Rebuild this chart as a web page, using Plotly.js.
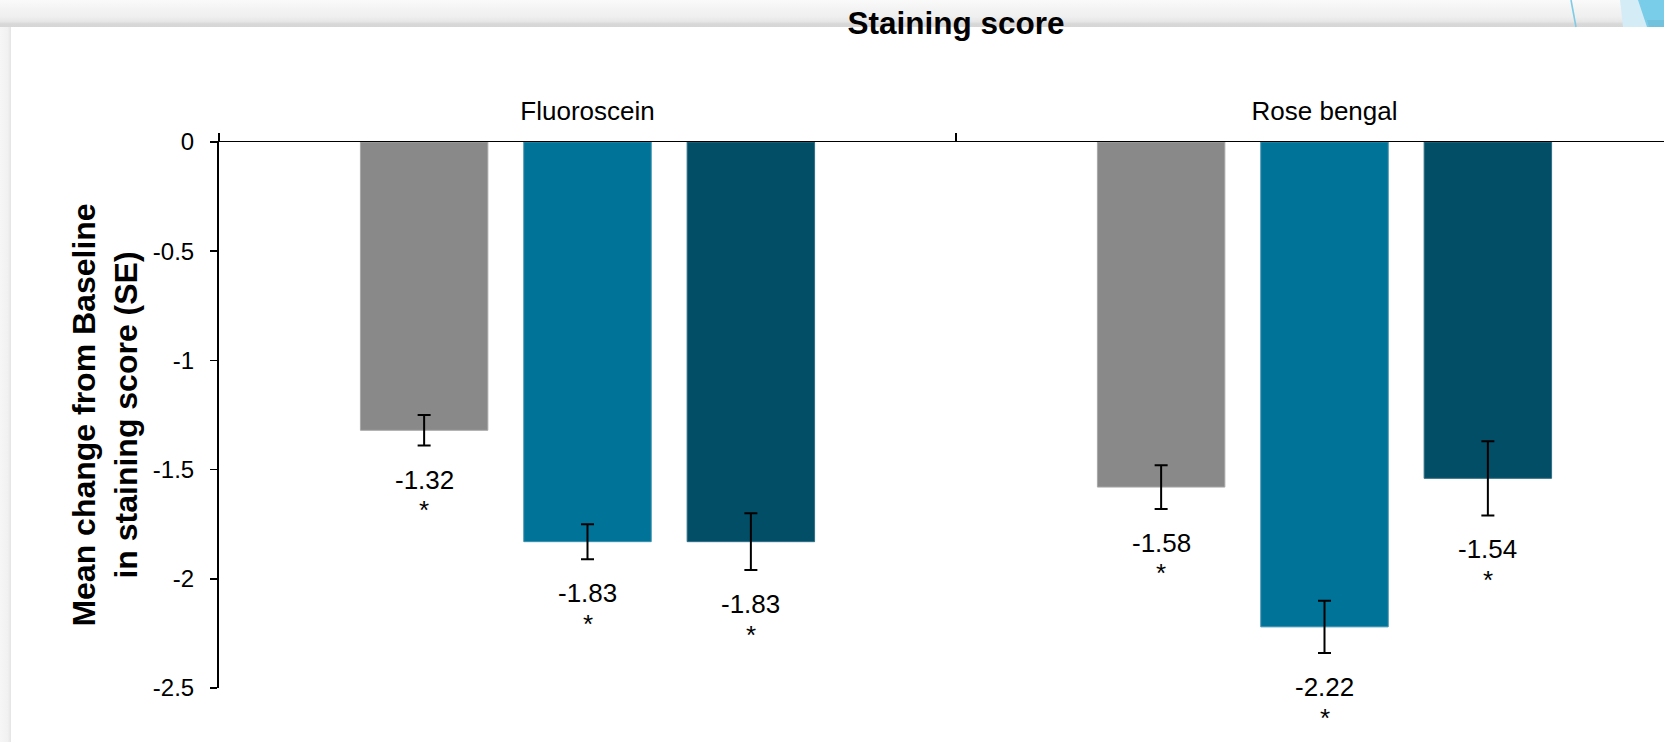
<!DOCTYPE html>
<html>
<head>
<meta charset="utf-8">
<script src="https://cdn.plot.ly/plotly-3.0.1.min.js"></script>
<style>
  html, body { margin: 0; padding: 0; width: 1664px; height: 742px; overflow: hidden; background: #ffffff; }
  #band { position: absolute; left: 0; top: 0; width: 1664px; height: 27px;
    background: linear-gradient(to bottom, #fafafa 0%, #f4f4f4 30%, #efefef 62%, #e6e6e6 80%, #d8d8d8 88%, #d6d6d6 100%); }
  #strip { position: absolute; left: 0; top: 27px; width: 11px; height: 715px;
    background: linear-gradient(to right, #f6f6f6 0%, #f1f1f1 70%, #e4e4e4 100%); }
  #deco { position: absolute; left: 0; top: 0; }
  #chart { position: absolute; left: 0; top: 0; width: 1720px; height: 742px; }
</style>
</head>
<body>
<div id="band"></div>
<div id="strip"></div>
<svg id="deco" width="1664" height="28">
  <polygon points="1620,0 1640,0 1648,27 1623,27" fill="#d4ecf6"/>
  <polygon points="1638,0 1664,0 1664,27 1647,27" fill="#7acde9"/>
  <polygon points="1647,20 1664,20 1664,27 1649,27" fill="#6cbad6" opacity="0.6"/>
  <line x1="1571" y1="0" x2="1576" y2="27" stroke="#7fcbe6" stroke-width="1.6"/>
</svg>
<div id="chart"></div>
<script>
// ---- data ----
var categories = ['Fluoroscein', 'Rose bengal'];
var seriesNames = ['Series 1', 'Series 2', 'Series 3'];
var series1 = [-1.32, -1.58];
var series2 = [-1.83, -2.22];
var series3 = [-1.83, -1.54];
var se1 = [0.07, 0.10];
var se2 = [0.08, 0.12];
var se3 = [0.13, 0.17];
var markers = ['*', '*'];
var yTickVals = [0, -0.5, -1, -1.5, -2, -2.5];
var yTickText = ['0', '-0.5', '-1', '-1.5', '-2', '-2.5'];
var colors = ['#898989', '#007398', '#024e66'];
var edgeColors = ['#a8a8a8', '#3a8fae', '#2e6e84'];

var FONT = '"Liberation Sans", Arial, sans-serif';
var bargap = 0.335, bargroupgap = 0.22;

var values = [series1, series2, series3];
var errs = [se1, se2, se3];

var traces = values.map(function (v, j) {
  return {
    type: 'bar',
    name: seriesNames[j],
    x: categories,
    y: v,
    marker: { color: colors[j], line: { color: edgeColors[j], width: 1 } },
    error_y: { type: 'data', array: errs[j], visible: true, color: '#000000', thickness: 2, width: 6.5 },
    hoverinfo: 'x+y'
  };
});

var slot = (1 - bargap) / values.length;
var annotations = [];
values.forEach(function (v, j) {
  v.forEach(function (val, i) {
    var xPos = i + (j - (values.length - 1) / 2) * slot;
    var yPos = val - errs[j][i];
    annotations.push({
      xref: 'x', yref: 'y', x: xPos, y: yPos,
      text: val.toFixed(2),
      showarrow: false, xanchor: 'center', yanchor: 'top', yshift: -17,
      font: { family: FONT, size: 26, color: '#000000' }
    });
    annotations.push({
      xref: 'x', yref: 'y', x: xPos, y: yPos,
      text: markers[i],
      showarrow: false, xanchor: 'center', yanchor: 'top', yshift: -47.5,
      font: { family: FONT, size: 26, color: '#000000' }
    });
  });
});

var layout = {
  width: 1720, height: 742,
  margin: { l: 219, r: 27, t: 142, b: 54 },
  paper_bgcolor: 'rgba(0,0,0,0)',
  plot_bgcolor: 'rgba(0,0,0,0)',
  showlegend: false,
  barmode: 'group',
  bargap: bargap,
  bargroupgap: bargroupgap,
  font: { family: FONT, color: '#000000' },
  title: {
    text: 'Staining score',
    font: { family: FONT, size: 31.5, weight: 'bold', color: '#000000' },
    x: 0.5, xref: 'paper', y: 0.969, yref: 'container', yanchor: 'middle'
  },
  xaxis: {
    type: 'category', side: 'top',
    showline: true, linecolor: '#000000', linewidth: 1.5,
    ticks: 'outside', tickson: 'boundaries', ticklen: 8, tickwidth: 1.5, tickcolor: '#000000',
    ticklabelstandoff: 10,
    tickfont: { family: FONT, size: 26, color: '#000000' },
    showgrid: false, zeroline: false, fixedrange: true
  },
  yaxis: {
    range: [-2.5, 0], tickmode: 'array', tickvals: yTickVals, ticktext: yTickText,
    showline: true, linecolor: '#000000', linewidth: 2,
    ticks: 'outside', ticklen: 7, tickwidth: 1.5, tickcolor: '#000000',
    ticklabelstandoff: 11,
    tickfont: { family: FONT, size: 24, color: '#000000' },
    showgrid: false, zeroline: false, fixedrange: true,
    title: {
      text: 'Mean change from Baseline<br>in staining score (SE)',
      font: { family: FONT, size: 32, weight: 'bold', color: '#000000' },
      standoff: 6
    }
  },
  annotations: annotations
};

Plotly.newPlot('chart', traces, layout, { displayModeBar: false, staticPlot: true });
</script>
</body>
</html>
